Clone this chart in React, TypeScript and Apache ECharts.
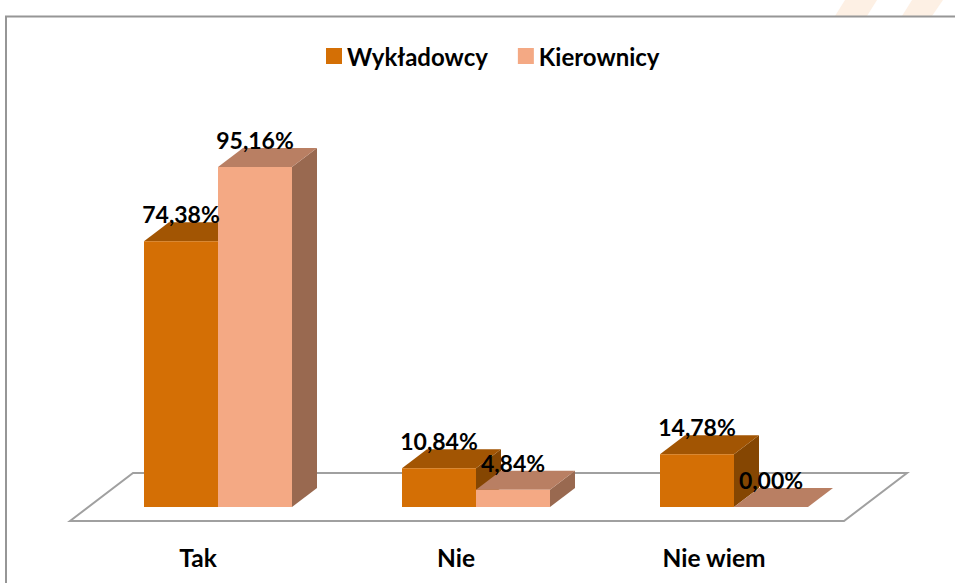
import React, { useEffect, useRef } from "react";
import * as echarts from "echarts";

const categories = ["Tak", "Nie", "Nie wiem"];
const lecturers = [74.38, 10.84, 14.78];
const managers = [95.16, 4.84, 0.0];
const seriesNames = ["Wykładowcy", "Kierownicy"];
const FONT = "Lato, 'Open Sans', sans-serif";

const DX = 25;
const DY = 19;
const BAR_W = 74;

const palettes = [
  { front: "#d46f05", top: "#a25503", side: "#854602" },
  { front: "#f4a984", top: "#b97f63", side: "#996950" },
];

const fmt = (v: number) => v.toFixed(2).replace(".", ",") + "%";

function barItem(index: number, pal: { front: string; top: string; side: string }) {
  return (_params: any, api: any) => {
    const c = api.coord([api.value(0), api.value(1)]);
    const base = api.coord([api.value(0), 0]);
    const x0 = c[0] + (index === 0 ? -BAR_W : 0);
    const x1 = x0 + BAR_W;
    const yt = c[1];
    const yb = base[1];
    const children: any[] = [];
    if (yb - yt > 0.5) {
      children.push({
        type: "polygon",
        shape: { points: [[x1, yb], [x1 + DX, yb - DY], [x1 + DX, yt - DY], [x1, yt]] },
        style: { fill: pal.side },
      });
    }
    children.push({
      type: "polygon",
      shape: { points: [[x0, yt], [x0 + DX, yt - DY], [x1 + DX, yt - DY], [x1, yt]] },
      style: { fill: pal.top },
    });
    if (yb - yt > 0.5) {
      children.push({
        type: "rect",
        shape: { x: x0, y: yt, width: BAR_W, height: yb - yt },
        style: { fill: pal.front },
      });
    }
    return { type: "group", children };
  };
}

function labelItem(index: number) {
  return (_params: any, api: any) => {
    const c = api.coord([api.value(0), api.value(1)]);
    return {
      type: "text",
      x: c[0] + (index === 0 ? -BAR_W / 2 : BAR_W / 2),
      y: c[1] - 27,
      style: {
        text: fmt(api.value(1)),
        fill: "#000",
        font: `bold 23px ${FONT}`,
        textAlign: "center",
        textVerticalAlign: "middle",
      },
    };
  };
}

function floorItem(params: any) {
  const s = params.coordSys;
  const yb = s.y + s.height;
  return {
    type: "polygon",
    shape: {
      points: [
        [s.x - 19, yb + 14],
        [s.x + 44, yb - 34],
        [s.x + s.width + 44, yb - 34],
        [s.x + s.width - 19, yb + 14],
      ],
    },
    style: { fill: "#fff", stroke: "#a0a0a0", lineWidth: 2 },
  };
}

export default function App() {
  const ref = useRef<HTMLDivElement>(null);
  useEffect(() => {
    document.body.style.margin = "0";
    const chart = echarts.init(ref.current!, undefined, { renderer: "svg" });
    const toData = (arr: number[]) => arr.map((v, i) => [i, v]);
    chart.setOption({
      animation: false,
      backgroundColor: "#fff",
      textStyle: { fontFamily: FONT },
      graphic: [
        { type: "polygon", silent: true, z: 0, shape: { points: [[845, 0], [877, 0], [867, 16], [835, 16]] }, style: { fill: "#fdf0e4" } },
        { type: "polygon", silent: true, z: 0, shape: { points: [[912, 0], [943, 0], [932, 16], [902, 16]] }, style: { fill: "#fdf0e4" } },
        { type: "rect", silent: true, z: 0, shape: { x: 6, y: 16.5, width: 960, height: 580 }, style: { fill: "#fff", stroke: "#969696", lineWidth: 2 } },
      ],
      legend: {
        left: 321,
        top: 39,
        icon: "rect",
        itemWidth: 16,
        itemHeight: 16,
        itemGap: 30,
        data: seriesNames,
        textStyle: { fontFamily: FONT, fontWeight: "bold", fontSize: 24, color: "#000" },
      },
      grid: { left: 89, width: 774, top: 149.7, height: 357.3 },
      xAxis: {
        type: "category",
        data: categories,
        axisLine: { show: false },
        axisTick: { show: false },
        axisLabel: {
          margin: 38,
          color: "#000",
          fontFamily: FONT,
          fontWeight: "bold",
          fontSize: 24.5,
          padding: [0, 40, 0, 0],
        },
      },
      yAxis: { type: "value", min: 0, max: 100, show: false, splitLine: { show: false } },
      series: [
        { type: "custom", name: "__floor", silent: true, z: 1, renderItem: floorItem, data: [[0, 0]], encode: { x: 0, y: 1 }, clip: false },
        { type: "custom", name: seriesNames[0], z: 2, itemStyle: { color: palettes[0].front }, renderItem: barItem(0, palettes[0]), data: toData(lecturers), encode: { x: 0, y: 1 }, clip: false },
        { type: "custom", name: seriesNames[1], z: 3, itemStyle: { color: palettes[1].front }, renderItem: barItem(1, palettes[1]), data: toData(managers), encode: { x: 0, y: 1 }, clip: false },
        { type: "custom", name: "__labels0", silent: true, z: 4, renderItem: labelItem(0), data: toData(lecturers), encode: { x: 0, y: 1 }, clip: false },
        { type: "custom", name: "__labels1", silent: true, z: 4, renderItem: labelItem(1), data: toData(managers), encode: { x: 0, y: 1 }, clip: false },
      ],
    });
    return () => chart.dispose();
  }, []);
  return <div ref={ref} style={{ width: 955, height: 583 }} />;
}
